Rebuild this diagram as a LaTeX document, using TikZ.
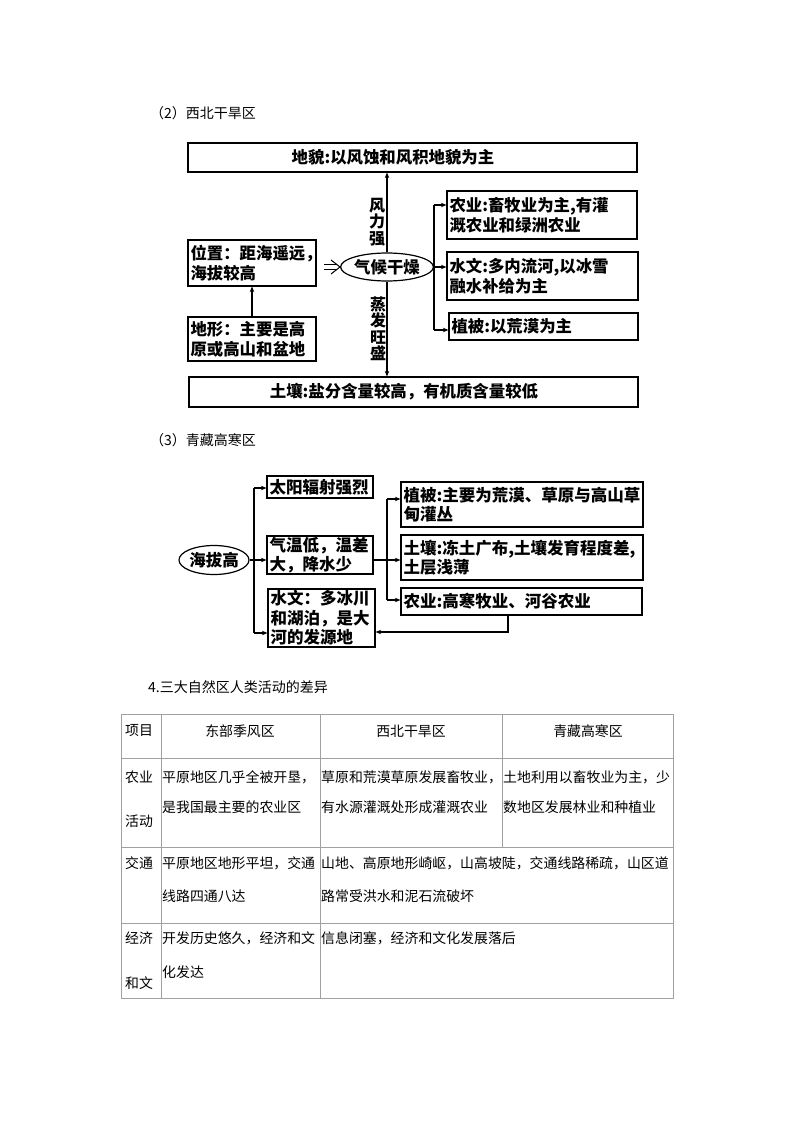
\documentclass[tikz,border=0pt]{standalone}
\usepackage{fontspec}
\setmainfont{Noto Sans CJK SC}
\usetikzlibrary{arrows.meta,shapes.geometric}
\definecolor{tgray}{HTML}{A0A0A0}
\newcommand\dgf{\fontsize{16.4}{20}\selectfont\bfseries}
\newcommand\dgfb{\fontsize{16.5}{19.5}\selectfont\bfseries}
\newcommand\vlf{\fontsize{16}{16.5}\selectfont\bfseries}
\newcommand\hdf{\fontsize{14}{16}\selectfont}
\newcommand\tbf{\fontsize{13.9}{16}\selectfont}
\tikzset{
  lw/.style={line width=1.2pt},
  ar/.style={lw,-{Stealth[length=5.5pt,width=4.5pt]}},
  bx/.style={draw,lw,inner xsep=2.5pt,inner ysep=0pt,align=left,font=\dgf},
  bxb/.style={bx,font=\dgfb},
  eb/.style={draw,lw,inner sep=0pt},
  el/.style={draw,lw,ellipse,inner sep=0pt,font=\dgf},
  dgt/.style={inner sep=0pt,font=\dgf},
  vl/.style={inner sep=0pt,align=center,font=\vlf},
  hd/.style={inner sep=0pt,anchor=west,font=\hdf},
  tt/.style={inner sep=0pt,anchor=west,font=\tbf},
  tc/.style={inner sep=0pt,font=\tbf},
  tl/.style={draw=tgray,line width=0.8pt},
  dbl/.style={line width=1pt},
}
\begin{document}
\begin{tikzpicture}[x=1pt,y=-1pt]
\useasboundingbox[fill=white] (0,0) rectangle (794,1123);

% ---------- (2) 西北干旱区 ----------
\node[hd] (t1) at (150,113) {（2）西北干旱区};

\node[eb,minimum width=449pt,minimum height=29pt] (top) at (412.5,157.5) {};
\node[dgt] (toptx) at (393,157.5) {地貌:以风蚀和风积地貌为主};

\node[bx,minimum width=128pt,minimum height=46pt,text width=123pt] (pos) at (252,263) {位置：距海遥远，\\海拔较高};
\node[bx,minimum width=128pt,minimum height=44pt,text width=123pt] (dx) at (252,339) {地形：主要是高\\原或高山和盆地};
\node[el,minimum width=84pt,minimum height=28pt] (e1) at (387,267) {气候干燥};

\node[bx,minimum width=190pt,minimum height=48pt,text width=185pt] (agr) at (542,215) {农业:畜牧业为主,有灌\\溉农业和绿洲农业};
\node[bx,minimum width=191pt,minimum height=48pt,text width=186pt] (hyd) at (542.5,276) {水文:多内流河,以冰雪\\融水补给为主};
\node[bx,minimum width=189pt,minimum height=27pt,text width=184pt] (veg) at (543.5,326.5) {植被:以荒漠为主};

\node[eb,minimum width=449pt,minimum height=30pt] (soil) at (413.5,392) {};
\node[dgt] (soiltx) at (404,392) {土壤:盐分含量较高，有机质含量较低};

\node[vl] (lab1) at (377,222) {风\\力\\强};
\node[vl] (lab2) at (378,329) {蒸\\发\\旺\\盛};

\draw[ar] (e1.north) -- (e1.north |- top.south);
\draw[ar] (e1.south) -- (e1.south |- soil.north);
\draw[ar] (dx.north) -- (pos.south);

\coordinate (da) at (324,267);
\draw[dbl] ([yshift=2.3pt]da) -- ([xshift=-3pt,yshift=2.3pt]e1.west);
\draw[dbl] ([yshift=-2.3pt]da) -- ([xshift=-3pt,yshift=-2.3pt]e1.west);
\draw[dbl] ([xshift=-9pt,yshift=7pt]e1.west) -- (e1.west) -- ([xshift=-9pt,yshift=-7pt]e1.west);

\coordinate (r1) at (434,205);
\coordinate (r3) at (434,330);
\draw[lw] (r1) -- (r3);
\draw[ar] (r1) -- (r1 -| agr.west);
\draw[ar] (e1.east) -- (e1.east -| hyd.west);
\draw[ar] (r3) -- (r3 -| veg.west);

% ---------- (3) 青藏高寒区 ----------
\node[hd] (t2) at (150,440) {（3）青藏高寒区};

\node[el,minimum width=64pt,minimum height=29pt,font=\dgfb] (e2) at (214,560) {海拔高};
\node[bxb,minimum width=106pt,minimum height=22pt,text width=101pt] (sun) at (320,487) {太阳辐射强烈};
\node[bxb,minimum width=106pt,minimum height=38pt,text width=101pt] (tmp) at (320,555) {气温低，温差\\大，降水少};
\node[bxb,minimum width=107pt,minimum height=58pt,text width=102pt] (hyd2) at (321.5,618) {水文：多冰川\\和湖泊，是大\\河的发源地};
\node[bxb,minimum width=242pt,minimum height=45pt,text width=237pt] (veg2) at (522,504.5) {植被:主要为荒漠、草原与高山草\\甸灌丛};
\node[bxb,minimum width=242pt,minimum height=45pt,text width=237pt] (soil2) at (522,557.5) {土壤:冻土广布,土壤发育程度差,\\土层浅薄};
\node[bxb,minimum width=241pt,minimum height=27pt,text width=236pt] (agr2) at (521.5,601.5) {农业:高寒牧业、河谷农业};

\coordinate (v1) at (254,488);
\coordinate (v2) at (254,633);
\draw[lw] (v1) -- (v2);
\draw[ar] (v1) -- (v1 -| sun.west);
\draw[ar] (e2.east) -- (e2.east -| tmp.west);
\draw[ar] (v2) -- (v2 -| hyd2.west);

\coordinate (w1) at (387,499);
\coordinate (w2) at (387,600);
\draw[lw] (w1) -- (w2);
\draw[ar] (w1) -- (w1 -| veg2.west);
\draw[ar] (w2) -- (w2 -| agr2.west);
\draw[ar] (e2.east -| tmp.east) -- (e2.east -| soil2.west);

\coordinate (fb) at (508,632);
\draw[ar] (agr2.south -| fb) -- (fb) -- (fb -| hyd2.east);

% ---------- 4. table ----------
\node[hd] (t3) at (148,687) {4.三大自然区人类活动的差异};

\draw[tl] (121,714) rectangle (673,998);
\draw[tl] (121,758) -- (673,758);
\draw[tl] (121,847) -- (673,847);
\draw[tl] (121,923) -- (673,923);
\draw[tl] (161,714) -- (161,998);
\draw[tl] (320,714) -- (320,998);
\draw[tl] (502,714) -- (502,847);

\node[tt] (h1) at (125,731) {项目};
\node[tc] (h2) at (240,731) {东部季风区};
\node[tc] (h3) at (411,731) {西北干旱区};
\node[tc] (h4) at (588,731) {青藏高寒区};

\node[tt] (a1) at (125,777) {农业};
\node[tt] (a1b) at (125,821) {活动};
\node[tt] (a2) at (162,777) {平原地区几乎全被开垦，};
\node[tt] (a2b) at (162,807) {是我国最主要的农业区};
\node[tt] (a3) at (321,777) {草原和荒漠草原发展畜牧业，};
\node[tt] (a3b) at (321,807) {有水源灌溉处形成灌溉农业};
\node[tt] (a4) at (503,777) {土地利用以畜牧业为主，少};
\node[tt] (a4b) at (503,807) {数地区发展林业和种植业};

\node[tt] (b1) at (125,863) {交通};
\node[tt] (b2) at (162,863) {平原地区地形平坦，交通};
\node[tt] (b2b) at (162,896) {线路四通八达};
\node[tt] (b3) at (321,863) {山地、高原地形崎岖，山高坡陡，交通线路稀疏，山区道};
\node[tt] (b3b) at (321,896) {路常受洪水和泥石流破坏};

\node[tt] (c1) at (125,938) {经济};
\node[tt] (c1b) at (125,983) {和文};
\node[tt] (c2) at (162,938) {开发历史悠久，经济和文};
\node[tt] (c2b) at (162,972) {化发达};
\node[tt] (c3) at (321,938) {信息闭塞，经济和文化发展落后};
\end{tikzpicture}
\end{document}
